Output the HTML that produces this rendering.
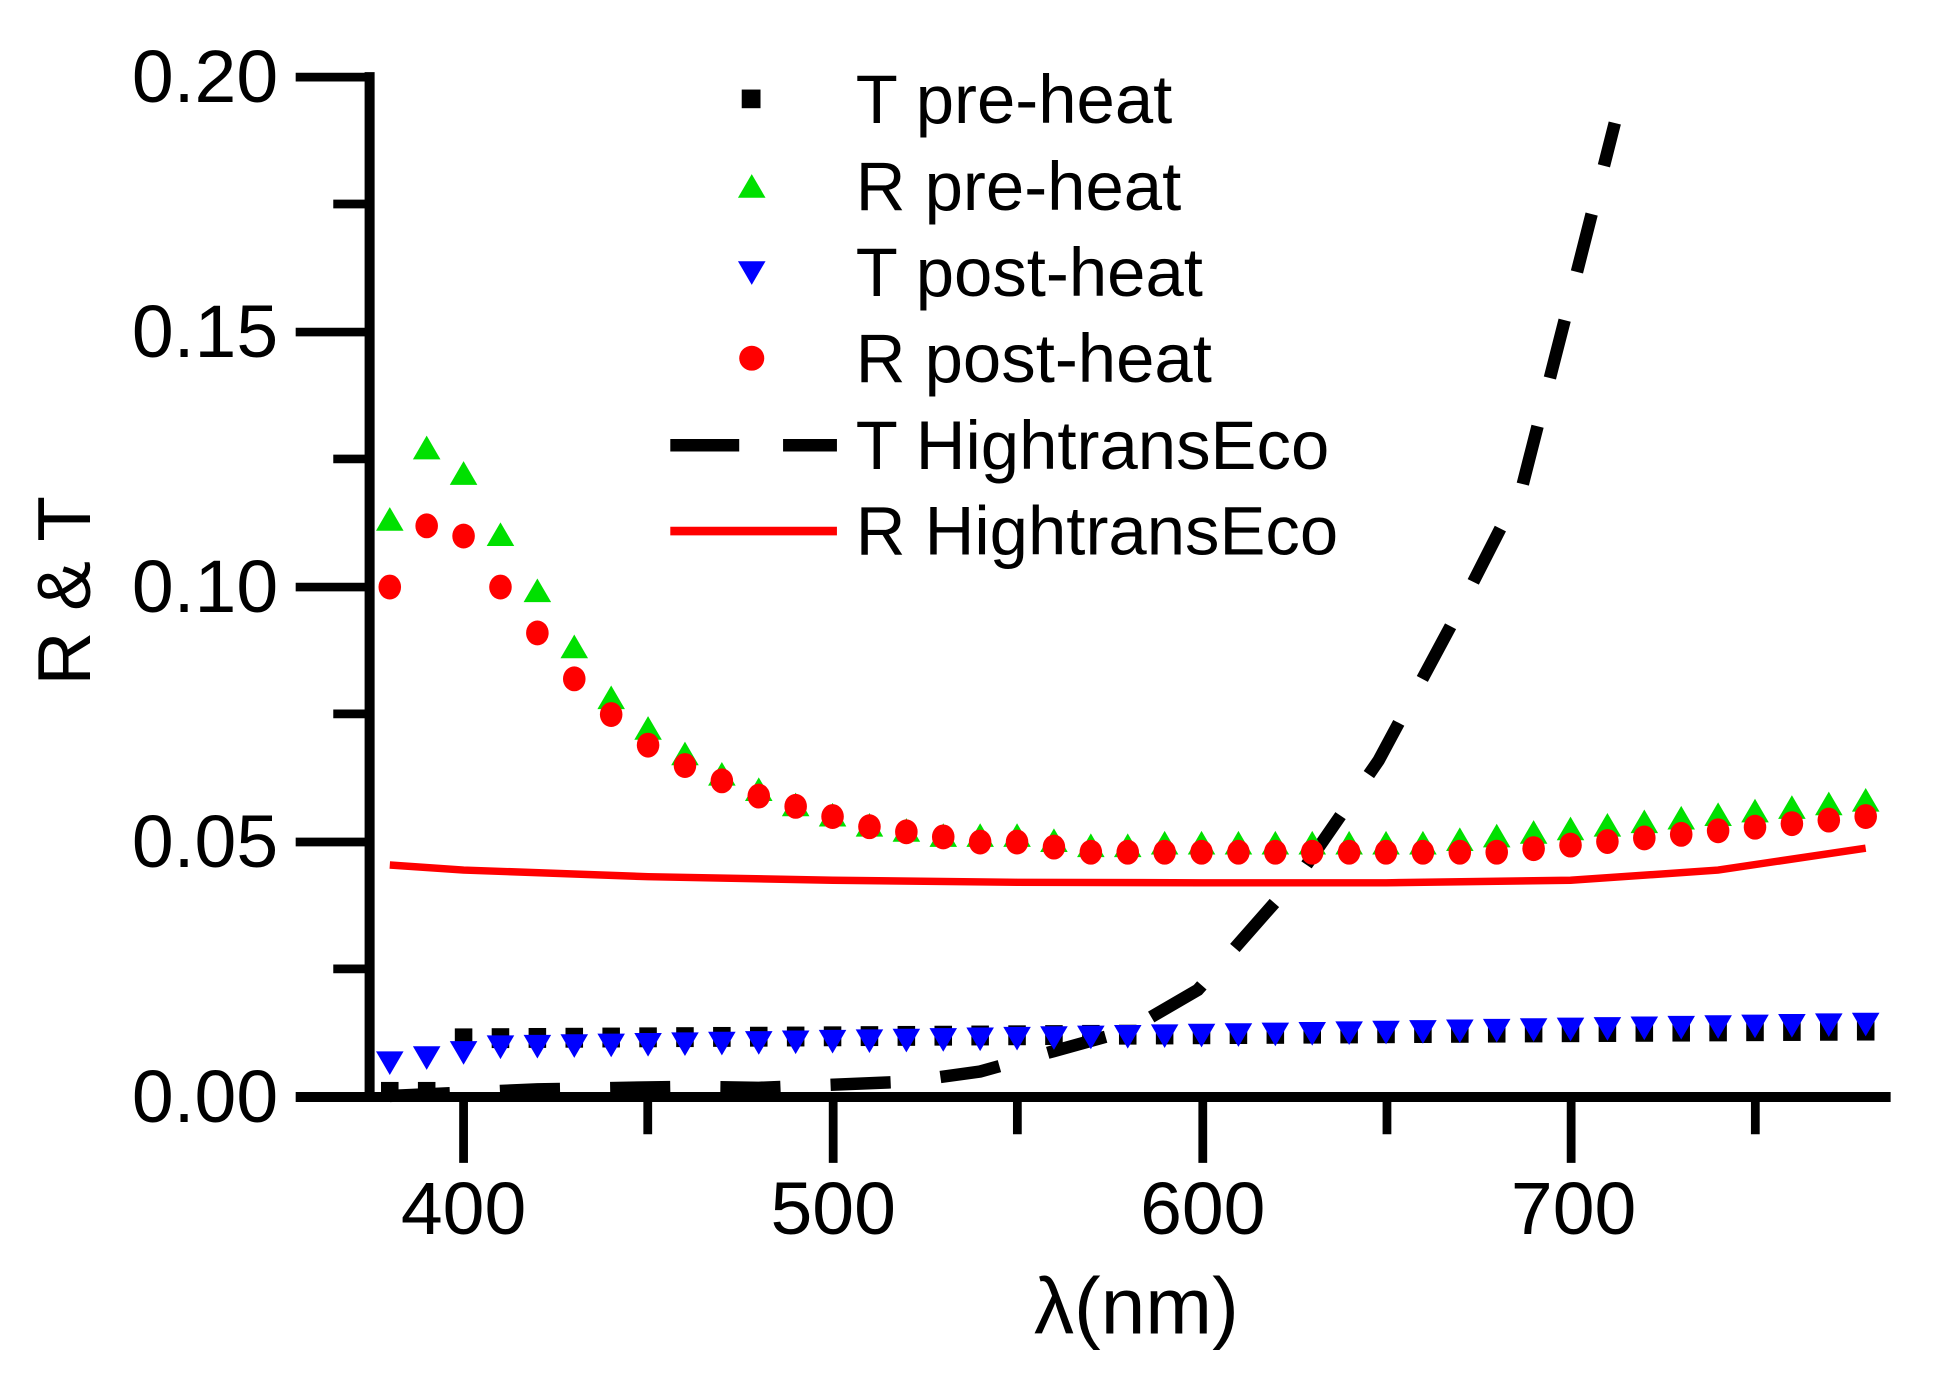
<!DOCTYPE html>
<html><head><meta charset="utf-8"><style>
html,body{margin:0;padding:0;background:#fff;}
svg{display:block;}
text{font-family:"Liberation Sans",Arial,sans-serif;fill:#000;}
</style></head><body>
<svg id="s" width="1942" height="1393" viewBox="0 0 1550 1120" preserveAspectRatio="none" xmlns="http://www.w3.org/2000/svg">
<rect width="1550" height="1120" fill="#fff"/>
<g id="plot"></g>
<line x1="295" y1="58" x2="295" y2="886" stroke="#000" stroke-width="8"/>
<line x1="236" y1="882" x2="1509" y2="882" stroke="#000" stroke-width="8"/>
<g stroke="#000" stroke-width="7">
<line x1="236" y1="62" x2="295" y2="62"/><line x1="236" y1="267" x2="295" y2="267"/><line x1="236" y1="472" x2="295" y2="472"/><line x1="236" y1="677" x2="295" y2="677"/>
<line x1="266" y1="164" x2="295" y2="164"/><line x1="266" y1="369" x2="295" y2="369"/><line x1="266" y1="574" x2="295" y2="574"/><line x1="266" y1="779" x2="295" y2="779"/>
<line x1="370" y1="882" x2="370" y2="935"/><line x1="665" y1="882" x2="665" y2="935"/><line x1="960" y1="882" x2="960" y2="935"/><line x1="1254" y1="882" x2="1254" y2="935"/>
<line x1="517" y1="882" x2="517" y2="912"/><line x1="812" y1="882" x2="812" y2="912"/><line x1="1107" y1="882" x2="1107" y2="912"/><line x1="1401" y1="882" x2="1401" y2="912"/>
</g>
<g font-size="60" text-anchor="end">
<text x="222" y="82">0.20</text><text x="222" y="287">0.15</text><text x="222" y="492">0.10</text><text x="222" y="697">0.05</text><text x="222" y="902">0.00</text>
</g>
<g font-size="60" text-anchor="middle">
<text x="370" y="992">400</text><text x="665" y="992">500</text><text x="960" y="992">600</text><text x="1256" y="992">700</text>
<text x="907" y="1072" font-size="64">λ(nm)</text>
<text transform="translate(72,475) rotate(-90)" font-size="60">R &amp; T</text>
</g>
<g font-size="55">
<rect x="592" y="72" width="15" height="15" fill="#000"/>
<text x="683" y="99">T pre-heat</text>
<polygon points="600,140 611,159 589,159" fill="#00e000"/>
<text x="683" y="169">R pre-heat</text>
<polygon points="589,210 611,210 600,229" fill="#0000ff"/>
<text x="683" y="238">T post-heat</text>
<circle cx="600" cy="288" r="10" fill="#ff0000"/>
<text x="683" y="307">R post-heat</text>
<line x1="535" y1="358" x2="590" y2="358" stroke="#000" stroke-width="10"/>
<line x1="625" y1="358" x2="668" y2="358" stroke="#000" stroke-width="10"/>
<text x="683" y="377">T HightransEco</text>
<line x1="535" y1="427" x2="668" y2="427" stroke="#ff0000" stroke-width="7"/>
<text x="683" y="446">R HightransEco</text>
</g>
</svg>
<script>
(function(){
var g=document.getElementById('plot'),NS='http://www.w3.org/2000/svg';
function X(n){return 370+(n-400)*2.945;}
function Y(v){return 882-v*4100;}
function el(t,a){var e=document.createElementNS(NS,t);for(var k in a)e.setAttribute(k,a[k]);g.appendChild(e);return e;}
var rl=[[380,.0455],[400,.0445],[450,.0432],[500,.0425],[550,.0421],[600,.042],[650,.042],[700,.0425],[740,.0445],[780,.0488]];
el('polyline',{points:rl.map(function(p){return X(p[0])+','+Y(p[1]);}).join(' '),fill:'none',stroke:'#ff0000','stroke-width':6});
var tl=[[380,.0002],[420,.0015],[460,.002],[480,.0018],[520,.003],[540,.005],[560,.009],[580,.013],[599,.021],[627,.044],[648,.066],[668,.093],[687,.12],[699,.154],[712,.191]];
el('polyline',{points:tl.map(function(p){return X(p[0])+','+Y(p[1]);}).join(' '),fill:'none',stroke:'#000','stroke-width':10,'stroke-dasharray':'48,40'});
var rpre={380:.113,390:.127,400:.122,410:.110,420:.099,430:.088,440:.078,450:.072,460:.067,470:.063,480:.060,490:.057,500:.055,510:.053,520:.052,530:.051,540:.051,550:.051,560:.050,570:.049,580:.049};
var rpost={380:.100,390:.112,400:.110,410:.100,420:.091,430:.082,440:.075,450:.069,460:.065,470:.062,480:.059,490:.057,500:.055,510:.053,520:.052,530:.051,540:.050,550:.050,560:.049,570:.048,580:.048};
for(var n=380;n<=780;n+=10){
 var gp=rpre[n]!==undefined?rpre[n]:(n<=660?.0495:.0495+(n-660)*.00007);
 var rp=rpost[n]!==undefined?rpost[n]:(n<=680?.048:.048+(n-680)*.00007);
 var tpre=n<400?.001:.0115+((n*7)%5)*.0006+(n-400)*.000004;
 var tpost=.007+Math.min(1,(n-380)/30)*.003+(n-400>0?(n-400)*.000012:0);
 var x=X(n);
 el('rect',{x:x-7,y:Y(tpre)-8,width:14,height:16,fill:'#000'});
 el('polygon',{points:(x-11)+','+(Y(tpost)-8)+' '+(x+11)+','+(Y(tpost)-8)+' '+x+','+(Y(tpost)+11),fill:'#0000ff'});
 el('polygon',{points:x+','+(Y(gp)-11)+' '+(x+11)+','+(Y(gp)+8)+' '+(x-11)+','+(Y(gp)+8),fill:'#00e000'});
 el('ellipse',{cx:x,cy:Y(rp),rx:9,ry:10,fill:'#ff0000'});
}
})();
</script>
</body></html>
